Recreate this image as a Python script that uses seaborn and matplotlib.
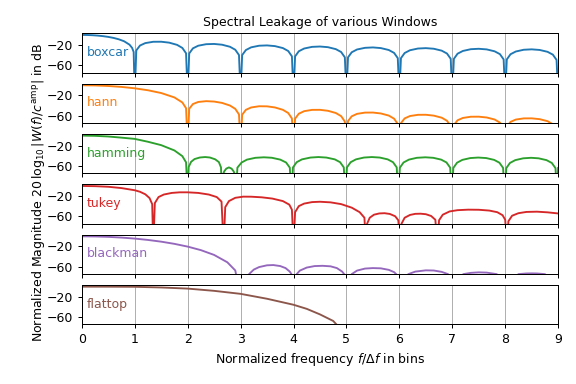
import matplotlib
matplotlib.use("Agg")
import matplotlib.pyplot as plt
import seaborn as sns

# Values (frequency in bins, level in dB).
# -120 marks a spectral null that falls below the visible range.
window_names = ['boxcar', 'hann', 'hamming', 'tukey', 'blackman', 'flattop']

boxcar_f = [0, 0.1, 0.2, 0.3, 0.4, 0.5, 0.6, 0.7, 0.8, 0.9, 0.95, 0.98,
            1, 1.03, 1.1, 1.2, 1.35, 1.5, 1.65, 1.8, 1.9, 1.97,
            2, 2.03, 2.1, 2.2, 2.35, 2.5, 2.65, 2.8, 2.9, 2.97,
            3, 3.03, 3.1, 3.2, 3.35, 3.5, 3.65, 3.8, 3.9, 3.97,
            4, 4.03, 4.1, 4.2, 4.35, 4.5, 4.65, 4.8, 4.9, 4.97,
            5, 5.03, 5.1, 5.2, 5.35, 5.5, 5.65, 5.8, 5.9, 5.97,
            6, 6.03, 6.1, 6.2, 6.35, 6.5, 6.65, 6.8, 6.9, 6.97,
            7, 7.03, 7.1, 7.2, 7.35, 7.5, 7.65, 7.8, 7.9, 7.97,
            8, 8.03, 8.1, 8.2, 8.35, 8.5, 8.65, 8.8, 8.9, 8.97,
            9]
boxcar_db = [0, -0.14, -0.58, -1.33, -2.42, -3.92, -5.94, -8.69, -12.6, -19.2, -25.6, -33.8,
             -120, -30.7, -21.0, -16.2, -13.6, -13.5, -15.3, -19.7, -25.8, -36.4,
             -120, -36.6, -26.6, -21.4, -18.4, -17.9, -19.4, -23.5, -29.4, -39.9,
             -120, -40.0, -30.0, -24.6, -21.4, -20.8, -22.2, -26.1, -31.9, -42.4,
             -120, -42.6, -32.4, -27.0, -23.7, -23.0, -24.3, -28.2, -33.9, -44.4,
             -120, -44.5, -34.4, -28.9, -25.6, -24.8, -26.1, -29.9, -35.6, -46.0,
             -120, -46.1, -35.9, -30.4, -27.0, -26.2, -27.4, -31.2, -36.9, -47.3,
             -120, -47.5, -37.2, -31.8, -28.3, -27.5, -28.7, -32.5, -38.1, -48.5,
             -120, -48.6, -38.3, -32.9, -29.4, -28.6, -29.8, -33.5, -39.1, -49.5,
             -120]

hann_f = [0, 0.25, 0.5, 0.75, 1.0, 1.25, 1.5, 1.75, 1.9, 1.97,
          2, 2.03, 2.1, 2.2, 2.35, 2.5, 2.65, 2.8, 2.9, 2.97,
          3, 3.03, 3.1, 3.2, 3.35, 3.5, 3.65, 3.8, 3.9, 3.97,
          4, 4.03, 4.1, 4.2, 4.35, 4.5, 4.65, 4.8, 4.9, 4.97,
          5, 5.03, 5.1, 5.2, 5.35, 5.5, 5.65, 5.8, 5.9, 5.97,
          6, 6.03, 6.1, 6.2, 6.35, 6.5, 6.65, 6.8, 6.9, 6.97,
          7, 7.03, 7.1, 7.2, 7.35, 7.5, 7.65, 7.8, 7.9, 7.97,
          8, 8.03, 8.1, 8.2, 8.35, 8.5, 8.65, 8.8, 8.9, 8.97,
          9]
hann_db = [0, -0.35, -1.42, -3.27, -6.02, -9.9, -15.4, -24.1, -34.1, -45.5,
           -120, -46.5, -37.2, -33.1, -31.5, -32.3, -35.0, -40.2, -46.8, -57.8,
           -120, -58.4, -48.7, -44.0, -41.6, -41.8, -44.0, -48.7, -55.0, -65.8,
           -120, -66.2, -56.4, -51.4, -48.8, -48.7, -50.6, -55.0, -61.2, -71.9,
           -120, -71.0, -61.5, -56.7, -54.2, -54.1, -55.9, -60.1, -66.2, -76.8,
           -120, -75.1, -65.7, -61.0, -58.6, -58.5, -60.2, -64.3, -70.4, -81.0,
           -120, -78.8, -69.4, -64.8, -62.4, -62.3, -63.9, -67.9, -74.0, -84.6,
           -120, -82.0, -72.6, -68.0, -65.7, -65.6, -67.2, -71.2, -77.2, -87.8,
           -120]

hamming_f = [0, 0.25, 0.5, 0.75, 1.0, 1.25, 1.5, 1.75, 1.9, 1.97, 2.0,
             2.02, 2.065, 2.13, 2.23, 2.33, 2.42, 2.52, 2.59, 2.63, 2.65,
             2.66, 2.69, 2.73, 2.78, 2.83, 2.87, 2.9, 2.91,
             2.94, 3.02, 3.12, 3.28, 3.44, 3.59, 3.75, 3.86, 3.93, 3.96,
             3.99, 4.06, 4.16, 4.32, 4.47, 4.62, 4.78, 4.88, 4.95, 4.98,
             5.01, 5.08, 5.18, 5.33, 5.48, 5.63, 5.78, 5.88, 5.95, 5.98,
             6.01, 6.08, 6.18, 6.33, 6.49, 6.64, 6.79, 6.89, 6.96, 6.99,
             7.02, 7.09, 7.19, 7.34, 7.49, 7.64, 7.79, 7.89, 7.96, 7.99,
             8.02, 8.09, 8.19, 8.34, 8.49, 8.63, 8.78, 8.88, 8.95, 8.98,
             9.0]
hamming_db = [0, -0.43, -1.75, -4.03, -6.5, -12.2, -18.9, -29.4, -40.7, -53, -120,
              -62, -52, -46.5, -43.4, -42.5, -43.4, -47, -52.5, -63, -120,
              -80, -71, -65.5, -63, -65.5, -71, -80, -120,
              -63.5, -53.3, -47.6, -44, -43, -43.9, -47.6, -53.3, -63.5, -120,
              -63, -52.7, -47.1, -43.5, -42.5, -43.5, -47.1, -52.7, -63, -120,
              -63, -52.7, -47.1, -43.5, -42.5, -43.5, -47.1, -52.7, -63, -120,
              -63.5, -53.2, -47.6, -44, -43, -44, -47.6, -53.2, -63.5, -120,
              -64, -53.7, -48.1, -44.5, -43.5, -44.5, -48.1, -53.7, -64, -120,
              -64.5, -54.2, -48.6, -45, -44, -45, -48.6, -54.2, -64.5, -120,
              -64]

tukey_f = [0, 0.25, 0.5, 0.75, 1.0, 1.1, 1.2, 1.28, 1.33, 1.35,
           1.38, 1.45, 1.55, 1.7, 1.85, 2.0, 2.2, 2.4, 2.55, 2.64, 2.68,
           2.71, 2.78, 2.9, 3.05, 3.2, 3.4, 3.6, 3.8, 3.92, 3.97, 4.0,
           4.03, 4.1, 4.2, 4.35, 4.5, 4.7, 4.9, 5.1, 5.25, 5.34, 5.37,
           5.39, 5.44, 5.52, 5.62, 5.72, 5.82, 5.92, 5.98, 6.02,
           6.04, 6.1, 6.2, 6.3, 6.4, 6.5, 6.6, 6.68, 6.72,
           6.75, 6.82, 6.95, 7.1, 7.3, 7.5, 7.7, 7.85, 7.95, 8.0, 8.03,
           8.06, 8.13, 8.25, 8.4, 8.6, 8.8, 9.0]
tukey_db = [0, -0.4, -1.6, -4.2, -8.5, -11.5, -16.5, -24, -36, -120,
            -34, -22, -17, -13.8, -12.6, -12.6, -13.8, -17, -22, -31, -120,
            -42, -30, -23.5, -21.2, -21.3, -22.5, -25, -30, -37, -47, -120,
            -52, -40, -35, -32, -31.3, -32.5, -36, -43, -52, -63, -120,
            -75, -63, -57, -54.5, -54, -55.5, -60, -68, -120,
            -75, -63, -57.5, -55.3, -55, -56, -59.5, -67, -120,
            -68, -57, -50.5, -48, -47, -47.2, -48.8, -52, -58, -67, -120,
            -70, -59, -54, -51.5, -51, -52.3, -54.5]

blackman_f = [0, 0.25, 0.5, 0.75, 1.0, 1.25, 1.5, 1.75, 2.0, 2.25, 2.5, 2.75, 2.9, 3.0,
              3.1, 3.17, 3.25, 3.35, 3.5, 3.62, 3.75, 3.85, 3.93, 3.98, 4.02,
              4.06, 4.12, 4.25, 4.4, 4.55, 4.7, 4.82, 4.92, 4.98, 5.0,
              5.05, 5.1, 5.2, 5.35, 5.5, 5.65, 5.8, 5.9, 5.96, 6.0,
              6.08, 6.17, 6.3, 6.5, 6.65, 6.8, 6.92, 6.97, 7.0,
              7.1, 7.21, 7.35, 7.5, 7.65, 7.84, 7.93, 8.0,
              8.1, 8.25, 8.4, 8.5, 8.6, 8.75, 8.9, 9.0]
blackman_db = [0, -0.3, -1.1, -2.5, -4.5, -7.2, -10.6, -14.95, -20.4, -27.4, -36.9, -51.5, -67.7, -120,
               -82, -74, -66, -61, -57.5, -57, -59, -63, -70, -78, -120,
               -75, -68, -62, -59, -58.5, -59.5, -63, -70, -78, -120,
               -85, -75, -68, -64, -63, -63.5, -66.5, -71, -77, -120,
               -85, -75, -70, -67.5, -67.8, -70.5, -75, -85, -120,
               -85, -75, -72.5, -71.5, -72, -75, -85, -120,
               -90, -75, -73.7, -73.5, -73.7, -75, -88, -120]

flattop_f = [0, 0.5, 1.0, 1.5, 2.0, 2.5, 3.0, 3.5, 4.0, 4.25, 4.5, 4.75, 4.9, 5.0]
flattop_db = [0, -0.05, -0.3, -1.6, -3.84, -8.3, -14.25, -24, -35.9, -44, -55, -68, -85, -120]

spectra = [(boxcar_f, boxcar_db), (hann_f, hann_db), (hamming_f, hamming_db),
           (tukey_f, tukey_db), (blackman_f, blackman_db), (flattop_f, flattop_db)]

fig, axx = plt.subplots(len(window_names), 1, sharex='all', sharey='all',
                        figsize=(6.4, 384 / 90), dpi=90)

for i, (wn, (f, db), ax) in enumerate(zip(window_names, spectra, axx)):
    sns.lineplot(x=f, y=db, ax=ax, color=f'C{i}', linewidth=1.5)
    ax.text(0.1, -35, wn, color=f'C{i}', verticalalignment='center', fontsize=10)
    ax.grid(True, axis='x')
    ax.set_yticks([-60, -20])

axx[0].set_title("Spectral Leakage of various Windows", fontsize='medium')
fig.supylabel(r"Normalized Magnitude $20\,\log_{10}|W(f)/c^\mathrm{amp}|$ in dB",
              x=0.052, y=0.5, fontsize='medium')
axx[-1].set(xlabel=r"Normalized frequency $f/\Delta f$ in bins",
            xlim=(0, 9), ylim=(-75, 3))
axx[-1].set_xticks(range(10))

fig.subplots_adjust(left=0.142, right=0.969, top=0.913, bottom=0.155, hspace=0.28)
fig.savefig('out.png', dpi=90)
plt.close(fig)
print("saved out.png")
